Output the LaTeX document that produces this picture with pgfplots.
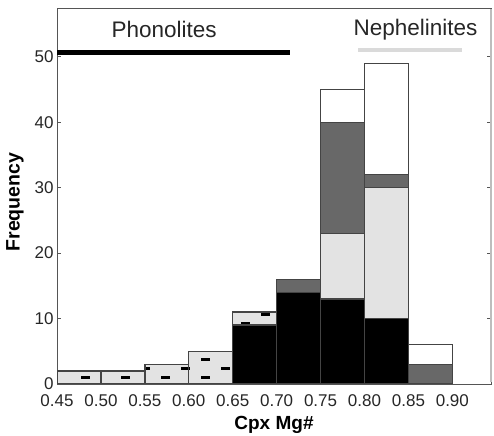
\documentclass[border=0pt]{standalone}
\usepackage{pgfplots}
\pgfplotsset{compat=1.18}
\usepackage{fontspec}
\setmainfont{Liberation Sans}
\usetikzlibrary{patterns}
\definecolor{edge}{HTML}{444444}
\definecolor{lgray}{HTML}{E3E3E3}
\definecolor{dgray}{HTML}{686868}
\definecolor{axcol}{HTML}{555555}
\definecolor{nephcol}{HTML}{DADADA}
\definecolor{rspine}{HTML}{BDBDBD}
\pgfdeclarepatternformonly{dashmarks}{\pgfpoint{-1bp}{-1bp}}{\pgfpoint{40bp}{18bp}}{\pgfpoint{40bp}{18bp}}{%
  \pgfsetlinewidth{3bp}%
  \pgfpathmoveto{\pgfpoint{1bp}{4bp}}\pgfpathlineto{\pgfpoint{10bp}{4bp}}%
  \pgfpathmoveto{\pgfpoint{21bp}{13bp}}\pgfpathlineto{\pgfpoint{30bp}{13bp}}%
  \pgfusepath{stroke}}
\pgfplotstableread{
x     black lg dg white dash
0.475 0  0  0  0  2
0.525 0  0  0  0  2
0.575 0  0  0  0  3
0.625 0  0  0  0  5
0.675 9  0  0  0  2
0.725 14 0  2  0  0
0.775 13 10 17 5  0
0.825 10 20 2  17 0
0.875 0  0  3  3  0
}\bins
\begin{document}
\begin{tikzpicture}
\useasboundingbox (-57bp,-52bp) rectangle (437bp,384bp);
\begin{axis}[
  at={(0,0)}, anchor=south west, scale only axis,
  width=434bp, height=375bp,
  xmin=0.45, xmax=0.944, ymin=0, ymax=57.3,
  ybar stacked, bar width=0.05,
  axis line style={axcol, line width=1bp},
  xtick={0.45,0.50,0.55,0.60,0.65,0.70,0.75,0.80,0.85,0.90},
  xticklabels={0.45,0.50,0.55,0.60,0.65,0.70,0.75,0.80,0.85,0.90},
  xtick style={draw=none},
  ytick={0,10,20,30,40,50},
  ytick style={axcol, line width=1bp},
  tick align=inside, major tick length=4bp,
  /pgf/number format/assume math mode=true,
  tick label style={font=\fontsize{17bp}{20bp}\selectfont, text=black!85},
  xticklabel style={yshift=-7bp},
  xlabel={\bfseries Cpx Mg\#},
  ylabel={\bfseries Frequency},
  xlabel style={font=\fontsize{19bp}{22bp}\selectfont, at={(axis description cs:0.5,-0.108)}, anchor=center},
  ylabel style={font=\fontsize{19.5bp}{22bp}\selectfont, at={(axis description cs:-0.097,0.485)}, anchor=center},
]
\addplot[fill=black, draw=edge, line width=1.3bp] table[x=x, y=black] {\bins};
\addplot[fill=lgray, draw=edge, line width=1.3bp] table[x=x, y=lg] {\bins};
\addplot[fill=dgray, draw=edge, line width=1.3bp] table[x=x, y=dg] {\bins};
\addplot[fill=white, draw=edge, line width=1.3bp] table[x=x, y=white] {\bins};
\addplot[fill=lgray, draw=edge, line width=1.3bp, postaction={pattern=dashmarks, pattern color=black}] table[x=x, y=dash] {\bins};
\end{axis}
\begin{axis}[
  at={(0,0)}, anchor=south west, scale only axis,
  width=434bp, height=375bp,
  xmin=0.45, xmax=0.944, ymin=0, ymax=57.3,
  hide axis, clip=false,
]
\addplot[rspine, line width=1.2bp, no marks] coordinates {(0.944,0.3) (0.944,57.3)};
\addplot[black, line width=5.5bp, no marks] coordinates {(0.45,50.66) (0.715,50.66)};
\addplot[nephcol, line width=4.3bp, no marks] coordinates {(0.793,51.07) (0.911,51.07)};
\node[font=\fontsize{22.5bp}{26bp}\selectfont, text=black!85] at (axis cs:0.572,54.1) {Phonolites};
\node[font=\fontsize{22.5bp}{26bp}\selectfont, text=black!85] at (axis cs:0.858,54.1) {Nephelinites};
\end{axis}
\end{tikzpicture}
\end{document}
